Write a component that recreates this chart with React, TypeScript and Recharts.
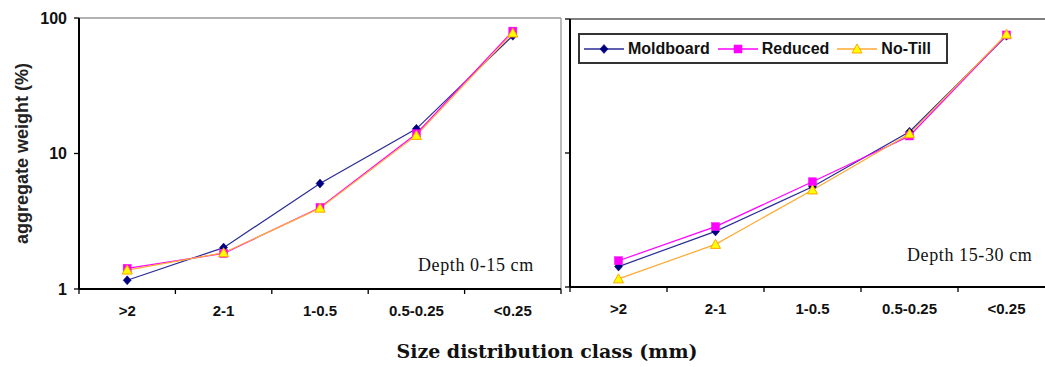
import React from 'react';
import { LineChart, Line, XAxis, YAxis, Legend, ReferenceLine } from 'recharts';

const categories = ['>2', '2-1', '1-0.5', '0.5-0.25', '<0.25'];
const moldboard0to15 = [1.16, 2.02, 6.0, 15.2, 74];
const reduced0to15 = [1.42, 1.83, 4.0, 14.0, 80];
const noTill0to15 = [1.38, 1.85, 3.95, 13.6, 77.5];
const moldboard15to30 = [1.42, 2.6, 5.6, 14.4, 75];
const reduced15to30 = [1.57, 2.82, 6.1, 13.4, 76];
const noTill15to30 = [1.15, 2.08, 5.3, 13.9, 77];
const yTicks = [1, 10, 100];
const yDomain = [1, 100];
const seriesNames = ['Moldboard', 'Reduced', 'No-Till'];

// category slots: boundaries at 0..n, labels at slot centres
const xDomain = [0, categories.length];
const xTicks = Array.from({ length: categories.length * 2 + 1 }, (_, k) => k / 2);

const buildRows = (m: number[], r: number[], n: number[]) =>
  categories.map((cat, i) => ({ cat, pos: i + 0.5, m: m[i], r: r[i], n: n[i] }));

const dataLeft = buildRows(moldboard0to15, reduced0to15, noTill0to15);
const dataRight = buildRows(moldboard15to30, reduced15to30, noTill15to30);

const MB_LINE = '#2B2B96';
const MB_FILL = '#000080';
const RD = '#FF00FF';
const NT_LINE = '#FFAA33';
const NT_FILL = '#FFFF00';
const NT_EDGE = '#FFA500';
const AXIS = '#000';

const sans = '"Liberation Sans", Arial, sans-serif';
const serif = '"Liberation Serif", "Times New Roman", serif';

const Diamond = (p: any) => {
  const { cx, cy } = p;
  if (cx == null || cy == null) return <g />;
  return <path d={`M${cx},${cy - 4.5}L${cx + 4},${cy}L${cx},${cy + 4.5}L${cx - 4},${cy}Z`} fill={MB_FILL} stroke={MB_FILL} strokeWidth={0.5} />;
};
const Square = (p: any) => {
  const { cx, cy } = p;
  if (cx == null || cy == null) return <g />;
  return <rect x={cx - 4} y={cy - 4} width={8} height={8} fill={RD} stroke={RD} strokeWidth={0.5} />;
};
const Triangle = (p: any) => {
  const { cx, cy } = p;
  if (cx == null || cy == null) return <g />;
  return <path d={`M${cx},${cy - 5}L${cx + 5},${cy + 4}L${cx - 5},${cy + 4}Z`} fill={NT_FILL} stroke={NT_EDGE} strokeWidth={1} />;
};

const legendItems = [
  { name: seriesNames[0], color: MB_LINE, Marker: Diamond },
  { name: seriesNames[1], color: RD, Marker: Square },
  { name: seriesNames[2], color: NT_LINE, Marker: Triangle },
];

const LegendBox = () => (
  <div
    style={{
      boxSizing: 'border-box',
      width: 370,
      height: 31,
      border: '2px solid #333',
      background: '#fff',
      display: 'flex',
      alignItems: 'center',
      paddingLeft: 4,
    }}
  >
    {legendItems.map((it, i) => (
      <div key={it.name} style={{ display: 'flex', alignItems: 'center', marginRight: i < 2 ? 8 : 0 }}>
        <svg width={40} height={14} style={{ display: 'block' }}>
          <line x1={0} y1={7} x2={40} y2={7} stroke={it.color} strokeWidth={1.3} />
          <it.Marker cx={20} cy={7} />
        </svg>
        <span style={{ fontFamily: sans, fontWeight: 'bold', fontSize: 16, color: '#111', marginLeft: 4, lineHeight: '16px' }}>
          {it.name}
        </span>
      </div>
    ))}
  </div>
);

const YLabel = (props: any) => {
  const vb = props.viewBox || { x: 0, y: 0, width: 0, height: 0 };
  const cx = vb.x + 22;
  const cy = vb.y + vb.height / 2;
  return (
    <text
      x={cx}
      y={cy}
      transform={`rotate(-90 ${cx} ${cy})`}
      textAnchor="middle"
      dominantBaseline="central"
      style={{ fontFamily: sans, fontWeight: 'bold', fontSize: 18, fill: '#222' }}
    >
      aggregate weight (%)
    </text>
  );
};

// bottom axis: boundary tick marks at integers, labels at slot centres
const CatTick = (props: any) => {
  const { x, y, payload } = props;
  const v = payload?.value;
  if (typeof v !== 'number') return <g />;
  if (Number.isInteger(v)) {
    return <line x1={x} y1={y} x2={x} y2={y + 5} stroke={AXIS} strokeWidth={1.3} />;
  }
  return (
    <text x={x} y={y + 27} textAnchor="middle" style={{ fontFamily: sans, fontWeight: 'bold', fontSize: 15, fill: '#111' }}>
      {categories[Math.floor(v)]}
    </text>
  );
};

// left axis: tick marks, optional labels
const makeYTick = (showLabel: boolean) => (props: any) => {
  const { x, y, payload } = props;
  const v = payload?.value;
  return (
    <g>
      <line x1={x - 5} y1={y} x2={x} y2={y} stroke={AXIS} strokeWidth={1.3} />
      {showLabel ? (
        <text x={x - 12} y={y} textAnchor="end" dominantBaseline="central" style={{ fontFamily: sans, fontWeight: 'bold', fontSize: 16, fill: '#111' }}>
          {v}
        </text>
      ) : null}
    </g>
  );
};
const YTickLabelled = makeYTick(true);
const YTickPlain = makeYTick(false);

const seriesLines = () => [
  <Line key="m" dataKey="m" name={seriesNames[0]} stroke={MB_LINE} strokeWidth={1.2} dot={Diamond} activeDot={false} isAnimationActive={false} />,
  <Line key="r" dataKey="r" name={seriesNames[1]} stroke={RD} strokeWidth={1.2} dot={Square} activeDot={false} isAnimationActive={false} />,
  <Line key="n" dataKey="n" name={seriesNames[2]} stroke={NT_LINE} strokeWidth={1.2} dot={Triangle} activeDot={false} isAnimationActive={false} />,
];

const xAxisEl = (
  <XAxis
    type="number"
    dataKey="pos"
    domain={xDomain}
    ticks={xTicks}
    interval={0}
    allowDataOverflow
    tickLine={false}
    axisLine={{ stroke: AXIS, strokeWidth: 2 }}
    stroke={AXIS}
    tickSize={0}
    tickMargin={0}
    height={30}
    tick={<CatTick />}
  />
);

// frame lines drawn last so nothing sits over them
const frame = (topColor: string, rightBorder: boolean) => [
  <ReferenceLine key="top" y={yDomain[1]} stroke={topColor} strokeWidth={1.3} ifOverflow="visible" />,
  rightBorder ? <ReferenceLine key="right" x={xDomain[1]} stroke="#999" strokeWidth={1.3} ifOverflow="visible" /> : null,
  <ReferenceLine key="bottom" y={yDomain[0]} stroke={AXIS} strokeWidth={2} ifOverflow="visible" />,
  <ReferenceLine key="left" x={xDomain[0]} stroke={AXIS} strokeWidth={2} ifOverflow="visible" />,
];

export default function App() {
  return (
    <div style={{ position: 'absolute', left: 0, top: 0, width: 1045, height: 367, overflow: 'hidden', background: '#fff' }}>
      <div style={{ position: 'absolute', left: 0, top: 0 }}>
        <LineChart width={565} height={367} data={dataLeft} margin={{ top: 18, right: 4, bottom: 48, left: 0 }}>
          {xAxisEl}
          <YAxis scale="log" domain={yDomain} ticks={yTicks} interval={0} allowDataOverflow width={79} tickSize={0} tickMargin={0} stroke={AXIS} axisLine={{ stroke: AXIS, strokeWidth: 2 }} tickLine={false} tick={<YTickLabelled />} label={{ content: YLabel }} />
          {seriesLines()}
          {frame('#999', true)}
        </LineChart>
      </div>
      <div style={{ position: 'absolute', left: 560, top: 0 }}>
        <LineChart width={500} height={367} data={dataRight} margin={{ top: 19, right: 5, bottom: 50, left: 0 }}>
          {xAxisEl}
          <YAxis scale="log" domain={yDomain} ticks={yTicks} interval={0} allowDataOverflow width={10} tickSize={0} tickMargin={0} stroke={AXIS} axisLine={{ stroke: AXIS, strokeWidth: 2 }} tickLine={false} tick={<YTickPlain />} />
          <Legend layout="horizontal" verticalAlign="middle" align="center" content={<LegendBox />} wrapperStyle={{ left: 18, top: 33, width: 370, height: 31 }} />
          {seriesLines()}
          {frame('#555', false)}
        </LineChart>
      </div>
      <div style={{ position: 'absolute', left: 418, top: 254, fontFamily: serif, fontSize: 18, lineHeight: '22px', letterSpacing: 0.6, color: '#111', whiteSpace: 'nowrap' }}>
        Depth 0-15 cm
      </div>
      <div style={{ position: 'absolute', left: 907, top: 244, fontFamily: serif, fontSize: 18, lineHeight: '22px', letterSpacing: 0.6, color: '#111', whiteSpace: 'nowrap' }}>
        Depth 15-30 cm
      </div>
      <div style={{ position: 'absolute', left: 0, width: 1094, top: 339, textAlign: 'center', fontFamily: '"DejaVu Serif", serif', fontWeight: 'bold', fontSize: 19, lineHeight: '24px', color: '#111', whiteSpace: 'nowrap' }}>
        Size distribution class (mm)
      </div>
    </div>
  );
}
